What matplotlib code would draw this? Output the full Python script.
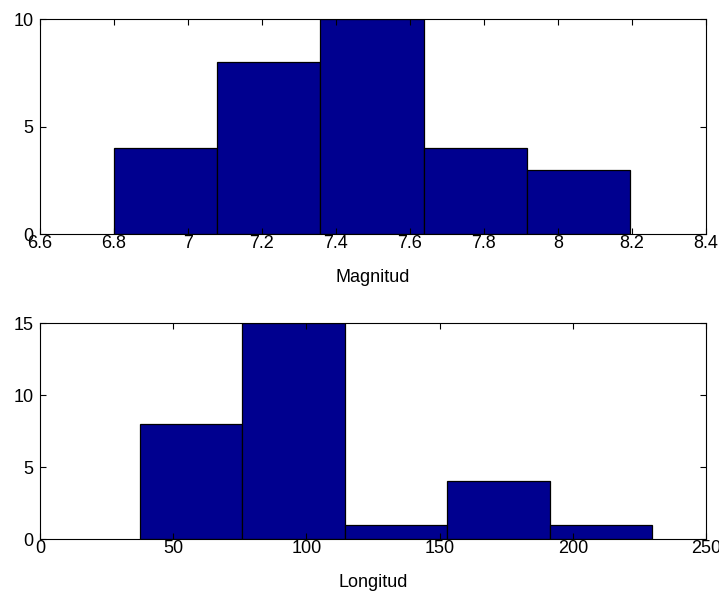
import matplotlib
matplotlib.use("Agg")
import matplotlib.pyplot as plt
import numpy as np

# histogram data
MAG_EDGES = [6.800, 7.079, 7.358, 7.637, 7.916, 8.195]
MAG_COUNTS = [4, 8, 10, 4, 3]
MAG_TICKS = [6.6, 6.8, 7.0, 7.2, 7.4, 7.6, 7.8, 8.0, 8.2, 8.4]
MAG_TICK_LABELS = ["6.6", "6.8", "7", "7.2", "7.4", "7.6", "7.8", "8", "8.2", "8.4"]

LON_EDGES = [37.5, 75.94, 114.38, 152.82, 191.26, 229.7]
LON_COUNTS = [8, 15, 1, 4, 1]
LON_TICKS = [0, 50, 100, 150, 200, 250]

BAR_COLOR = (0, 0, 0.5625)
FONT_SIZE = 13

plt.rcParams.update(
    {
        "font.family": ["Liberation Sans", "DejaVu Sans"],
        "font.size": FONT_SIZE,
        "axes.linewidth": 0.8,
        "xtick.direction": "in",
        "ytick.direction": "in",
        "xtick.major.size": 4,
        "ytick.major.size": 4,
        "xtick.major.pad": 1,
        "ytick.major.pad": 4.5,
    }
)

fig = plt.figure(figsize=(7.19, 5.91), dpi=100)
ax1 = fig.add_axes([40 / 719, 1 - 234 / 591, 666 / 719, 215 / 591])
ax2 = fig.add_axes([40 / 719, 1 - 539 / 591, 666 / 719, 216 / 591])


def draw_hist(ax, edges, counts):
    edges = np.asarray(edges)
    ax.bar(edges[:-1], counts, width=np.diff(edges), align="edge",
           color=BAR_COLOR, edgecolor="black", linewidth=0.9)
    ax.tick_params(top=True, right=True, labelsize=FONT_SIZE, width=0.8)


draw_hist(ax1, MAG_EDGES, MAG_COUNTS)
ax1.set_xlim(6.6, 8.4)
ax1.set_ylim(0, 10)
ax1.set_xticks(MAG_TICKS)
ax1.set_xticklabels(MAG_TICK_LABELS)
ax1.set_yticks([0, 5, 10])
ax1.set_xlabel("Magnitud", fontsize=FONT_SIZE, labelpad=12)

draw_hist(ax2, LON_EDGES, LON_COUNTS)
ax2.set_xlim(0, 250)
ax2.set_ylim(0, 15)
ax2.set_xticks(LON_TICKS)
ax2.set_yticks([0, 5, 10, 15])
ax2.set_xlabel("Longitud", fontsize=FONT_SIZE, labelpad=12)

fig.savefig("out.png", dpi=100)
